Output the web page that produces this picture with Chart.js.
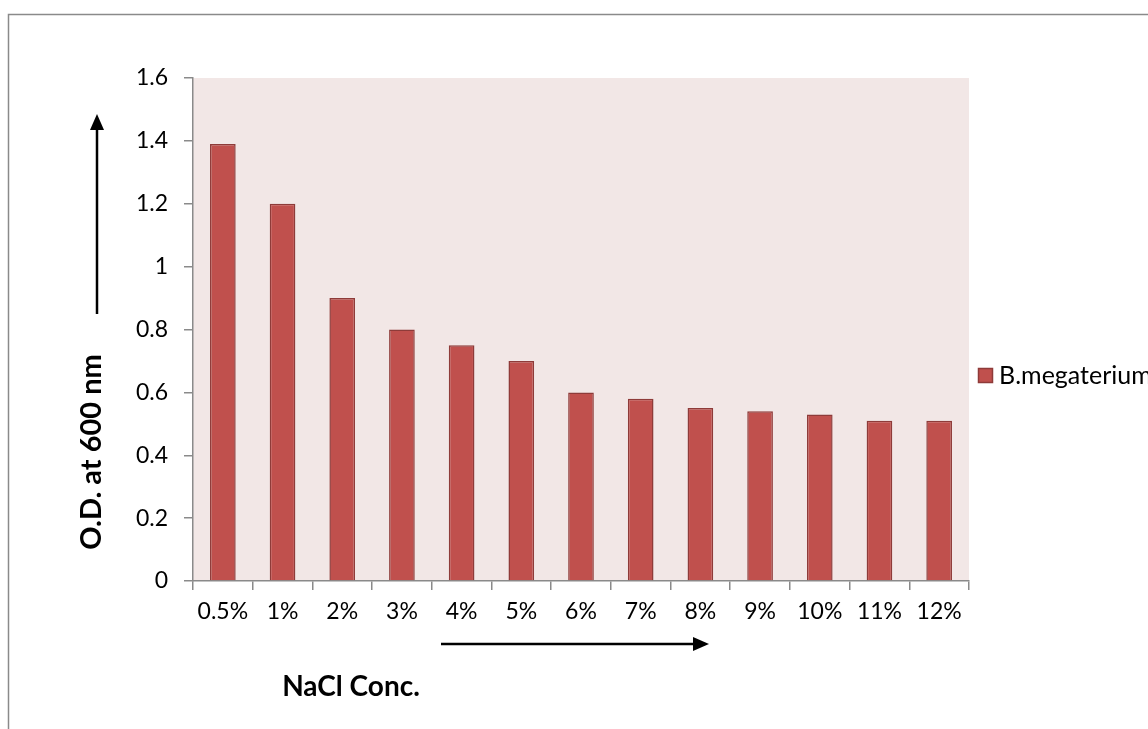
<!DOCTYPE html>
<html>
<head>
<meta charset="utf-8">
<title>NaCl tolerance – B.megaterium</title>
<script src="https://cdn.jsdelivr.net/npm/chart.js@4/dist/chart.umd.min.js"></script>
<style>
  html, body { margin: 0; padding: 0; background: #fff; }
  #wrap { position: relative; width: 1148px; height: 729px; }
</style>
</head>
<body>
<div id="wrap"><canvas id="odChart" width="1148" height="729"></canvas></div>
<script>
const concentrations = ['0.5%', '1%', '2%', '3%', '4%', '5%', '6%', '7%', '8%', '9%', '10%', '11%', '12%'];
const odValues = [1.39, 1.2, 0.9, 0.8, 0.75, 0.7, 0.6, 0.58, 0.55, 0.54, 0.53, 0.51, 0.51];
const seriesName = 'B.megaterium';
const yTitle = 'O.D. at 600 nm';
const xTitle = 'NaCl Conc.';

const FONT = 'Lato, "Open Sans", sans-serif';
const BAR_FILL = '#C0504D';
const BAR_EDGE = '#8E3B39';

// pink plot background, outer frame, arrows, titles and legend
const decor = {
    id: 'decor',
    beforeDraw(chart) {
        const { ctx, chartArea: a } = chart;
        ctx.save();
        ctx.fillStyle = '#F2E7E6';
        ctx.fillRect(a.left, a.top, a.right - a.left, a.bottom - a.top);
        ctx.strokeStyle = '#8a8a8a';
        ctx.lineWidth = 1.5;
        ctx.strokeRect(8.5, 14.5, 1160, 740);
        ctx.restore();
    },
    afterDraw(chart) {
        const { ctx } = chart;
        ctx.save();
        ctx.fillStyle = '#000';
        ctx.strokeStyle = '#000';
        ctx.lineWidth = 2.5;

        // upward arrow beside the y title
        ctx.beginPath();
        ctx.moveTo(97, 314);
        ctx.lineTo(97, 128);
        ctx.stroke();
        ctx.beginPath();
        ctx.moveTo(97, 114);
        ctx.lineTo(90, 130);
        ctx.lineTo(104, 130);
        ctx.closePath();
        ctx.fill();

        // rightward arrow under the x labels
        ctx.beginPath();
        ctx.moveTo(441, 644);
        ctx.lineTo(696, 644);
        ctx.stroke();
        ctx.beginPath();
        ctx.moveTo(709, 644);
        ctx.lineTo(693, 637);
        ctx.lineTo(693, 651);
        ctx.closePath();
        ctx.fill();

        // axis titles
        ctx.textAlign = 'center';
        ctx.textBaseline = 'middle';
        ctx.save();
        ctx.font = 'bold 29px ' + FONT;
        ctx.translate(92, 452);
        ctx.rotate(-Math.PI / 2);
        ctx.fillText(yTitle, 0, 0);
        ctx.restore();
        ctx.font = 'bold 28px ' + FONT;
        ctx.fillText(xTitle, 351, 687);

        // legend (runs off the right edge)
        const ds = chart.data.datasets[0];
        ctx.fillStyle = ds.backgroundColor;
        ctx.fillRect(978, 368, 15, 15);
        ctx.strokeStyle = ds.borderColor;
        ctx.lineWidth = 1.5;
        ctx.strokeRect(978.5, 368.5, 14, 14);
        ctx.fillStyle = '#000';
        ctx.font = '25px ' + FONT;
        ctx.textAlign = 'left';
        ctx.fillText(ds.label, 999, 376);
        ctx.restore();
    }
};

new Chart(document.getElementById('odChart'), {
    type: 'bar',
    data: {
        labels: concentrations,
        datasets: [{
            label: seriesName,
            data: odValues,
            backgroundColor: BAR_FILL,
            borderColor: BAR_EDGE,
            borderWidth: 1.5,
            categoryPercentage: 1,
            barPercentage: 0.43
        }]
    },
    options: {
        responsive: false,
        animation: false,
        events: [],
        layout: { padding: { top: 78, right: 179, left: 0, bottom: 0 } },
        plugins: {
            legend: { display: false },
            tooltip: { enabled: false },
            title: { display: false }
        },
        scales: {
            x: {
                offset: true,
                grid: {
                    offset: true,
                    drawOnChartArea: false,
                    color: '#8a8a8a',
                    tickLength: 9,
                    lineWidth: 1.5
                },
                border: { color: '#8a8a8a', width: 1.5 },
                ticks: {
                    color: '#000',
                    font: { family: FONT, size: 23 },
                    padding: 8,
                    maxRotation: 0,
                    autoSkip: false
                },
                afterFit(scale) { scale.height = 148; }
            },
            y: {
                min: 0,
                max: 1.6,
                grid: {
                    drawOnChartArea: false,
                    color: '#8a8a8a',
                    tickLength: 9,
                    lineWidth: 1.5
                },
                border: { color: '#8a8a8a', width: 1.5 },
                ticks: {
                    stepSize: 0.2,
                    color: '#000',
                    font: { family: FONT, size: 23 },
                    padding: 16,
                    callback: v => String(Math.round(v * 10) / 10)
                },
                afterFit(scale) { scale.width = 193; }
            }
        }
    },
    plugins: [decor]
});
</script>
</body>
</html>
